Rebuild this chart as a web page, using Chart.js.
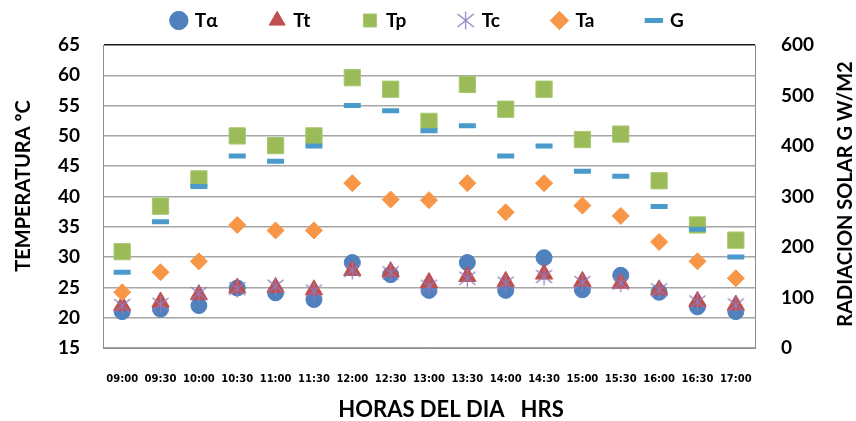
<!DOCTYPE html>
<html>
<head>
<meta charset="utf-8">
<script src="https://cdn.jsdelivr.net/npm/chart.js@4.4.0/dist/chart.umd.min.js"></script>
<style>
  html, body { margin: 0; padding: 0; background: #ffffff; }
  #wrap { position: relative; width: 856px; height: 421px; }
</style>
</head>
<body>
<div id="wrap"><canvas id="c" width="856" height="421"></canvas></div>
<script>
// ---- data ----
const categories = ['09:00','09:30','10:00','10:30','11:00','11:30','12:00','12:30','13:00','13:30','14:00','14:30','15:00','15:30','16:00','16:30','17:00'];
const seriesNames = ['Tα','Tt','Tp','Tc','Ta','G'];
const tAlpha = [21.0, 21.4, 22.0, 24.9, 24.1, 23.0, 29.1, 27.1, 24.5, 29.1, 24.5, 29.9, 24.6, 27.0, 24.2, 21.8, 21.0];
const tT     = [22.0, 22.6, 23.8, 24.9, 25.0, 24.6, 27.8, 27.6, 25.8, 26.8, 26.0, 27.2, 26.0, 25.7, 24.6, 22.7, 22.1];
const tP     = [30.9, 38.4, 42.9, 50.0, 48.4, 50.0, 59.6, 57.7, 52.4, 58.5, 54.4, 57.7, 49.4, 50.3, 42.6, 35.3, 32.8];
const tC     = [22.0, 22.2, 24.0, 24.8, 25.2, 24.4, 27.8, 27.4, 25.2, 26.5, 25.7, 26.8, 25.8, 25.7, 24.6, 22.6, 22.1];
const tA     = [24.2, 27.5, 29.3, 35.3, 34.4, 34.4, 42.2, 39.5, 39.4, 42.2, 37.4, 42.2, 38.5, 36.8, 32.5, 29.3, 26.5];
const gRad   = [150, 250, 320, 380, 370, 400, 480, 470, 430, 440, 380, 400, 350, 340, 280, 235, 180];
const leftTicks = [15, 65, 5];    // min, max, step
const rightTicks = [0, 600, 100]; // min, max, step
const titleLeft = 'TEMPERATURA ºC';
const titleRight = 'RADIACION SOLAR G W/M2';
const titleX = 'HORAS DEL DIA   HRS';

// ---- styling ----
const FONT = 'Lato, "Open Sans", "Noto Sans", sans-serif';
const colors = { a: '#4F81BD', t: '#C0504D', p: '#9BBB59', c: '#8E7CC3', ta: '#F79646', g: '#4A9BCB' };

// asterisk-like marker (X plus vertical stroke) for Tc
function makeStar(size, color) {
  const cv = document.createElement('canvas');
  cv.width = size; cv.height = size;
  const x = cv.getContext('2d');
  x.strokeStyle = color; x.lineWidth = 1.2;
  x.beginPath();
  x.moveTo(1.5, 3); x.lineTo(size - 1.5, size - 3);
  x.moveTo(size - 1.5, 3); x.lineTo(1.5, size - 3);
  x.moveTo(size / 2, 0.5); x.lineTo(size / 2, size - 0.5);
  x.stroke();
  return cv;
}
const starImg = makeStar(19, colors.c);

function ds(label, data, axis, style, radius, fill, border, bw, order) {
  return {
    label, data, yAxisID: axis, showLine: false, order,
    pointStyle: style, pointRadius: radius, pointHoverRadius: radius,
    backgroundColor: fill, borderColor: border,
    pointBackgroundColor: fill, pointBorderColor: border, pointBorderWidth: bw, borderWidth: bw
  };
}

const datasets = [
  ds(seriesNames[0], tAlpha, 'y',  'circle',   8,    colors.a, colors.a, 1, 6),
  ds(seriesNames[1], tT,     'y',  'triangle', 10,   colors.t, colors.t, 1, 5),
  ds(seriesNames[2], tP,     'y',  'rect',     11.5, colors.p, '#A9C873', 1, 4),
  ds(seriesNames[3], tC,     'y',  starImg,    9,    colors.c, colors.c, 1, 3),
  ds(seriesNames[4], tA,     'y',  'rectRot',  8.5,  colors.ta, colors.ta, 1, 2),
  ds(seriesNames[5], gRad,   'y1', 'line',     8.5,  colors.g, colors.g, 5, 1)
];

const LEGEND_H = 45, LEGEND_PAD = 53, LEGEND_ROW_TOP = 11;

const legendTweak = {
  id: 'legendTweak',
  beforeInit(chart) {
    const lg = chart.legend;
    if (!lg) return;
    const fit = lg.fit;
    lg.fit = function () { fit.call(this); this.height = LEGEND_H; };
    const draw = lg.draw;
    lg.draw = function () {
      const oldTop = this.top;
      this.top = oldTop + LEGEND_ROW_TOP - LEGEND_PAD;
      draw.apply(this, arguments);
      this.top = oldTop;
    };
  }
};

function fitFont(ctx, text, targetW, maxSize) {
  let s = maxSize;
  for (; s > 8; s -= 0.5) {
    ctx.font = 'bold ' + s + 'px ' + FONT;
    if (ctx.measureText(text).width <= targetW) break;
  }
  return s;
}

const axisTitles = {
  id: 'axisTitles',
  afterDraw(chart) {
    const ctx = chart.ctx;
    ctx.save();
    ctx.fillStyle = '#000';
    ctx.textAlign = 'center';
    ctx.textBaseline = 'middle';
    fitFont(ctx, titleLeft, 172, 20);
    ctx.save(); ctx.translate(24, 186); ctx.rotate(-Math.PI / 2); ctx.fillText(titleLeft, 0, 0); ctx.restore();
    fitFont(ctx, titleRight, 271, 21);
    ctx.save(); ctx.translate(846, 194); ctx.rotate(-Math.PI / 2); ctx.fillText(titleRight, 0, 0); ctx.restore();
    fitFont(ctx, titleX, 252, 22);
    ctx.fillText(titleX, 451, 410);
    ctx.restore();
  }
};

new Chart(document.getElementById('c'), {
  type: 'line',
  data: { labels: categories, datasets },
  options: {
    responsive: false,
    animation: false,
    events: [],
    layout: { padding: 0 },
    plugins: {
      tooltip: { enabled: false },
      legend: {
        position: 'top',
        align: 'center',
        labels: {
          usePointStyle: true,
          boxWidth: 13, boxHeight: 13,
          padding: LEGEND_PAD,
          color: '#000',
          font: { family: FONT, size: 19, weight: 'bold' },
          sort: (a, b) => a.datasetIndex - b.datasetIndex
        }
      }
    },
    scales: {
      x: {
        type: 'category',
        offset: true,
        grid: { display: false },
        border: { display: true, color: '#8C8C8C', width: 1 },
        ticks: { color: '#000', padding: 17, maxRotation: 0, autoSkip: false,
                 font: { family: '"DejaVu Sans", sans-serif', size: 10, weight: 'bold' } },
        afterFit(scale) { scale.height = 73; }
      },
      y: {
        position: 'left',
        min: leftTicks[0], max: leftTicks[1],
        ticks: { stepSize: leftTicks[2], color: '#000', padding: 23,
                 font: { family: FONT, size: 19, weight: 'bold' } },
        grid: {
          drawTicks: false,
          color: (c) => (c.tick && c.tick.value === leftTicks[1]) ? '#1a1a1a' : '#A6A6A6',
          lineWidth: 1.5
        },
        border: { display: true, color: '#8C8C8C', width: 1 },
        afterFit(scale) { scale.width = 103; }
      },
      y1: {
        position: 'right',
        min: rightTicks[0], max: rightTicks[1],
        ticks: { stepSize: rightTicks[2], color: '#000', padding: 26,
                 font: { family: FONT, size: 19, weight: 'bold' } },
        grid: { drawOnChartArea: false, drawTicks: false },
        border: { display: true, color: '#8C8C8C', width: 1 },
        afterFit(scale) { scale.width = 101; }
      }
    }
  },
  plugins: [legendTweak, axisTitles]
});
</script>
</body>
</html>
